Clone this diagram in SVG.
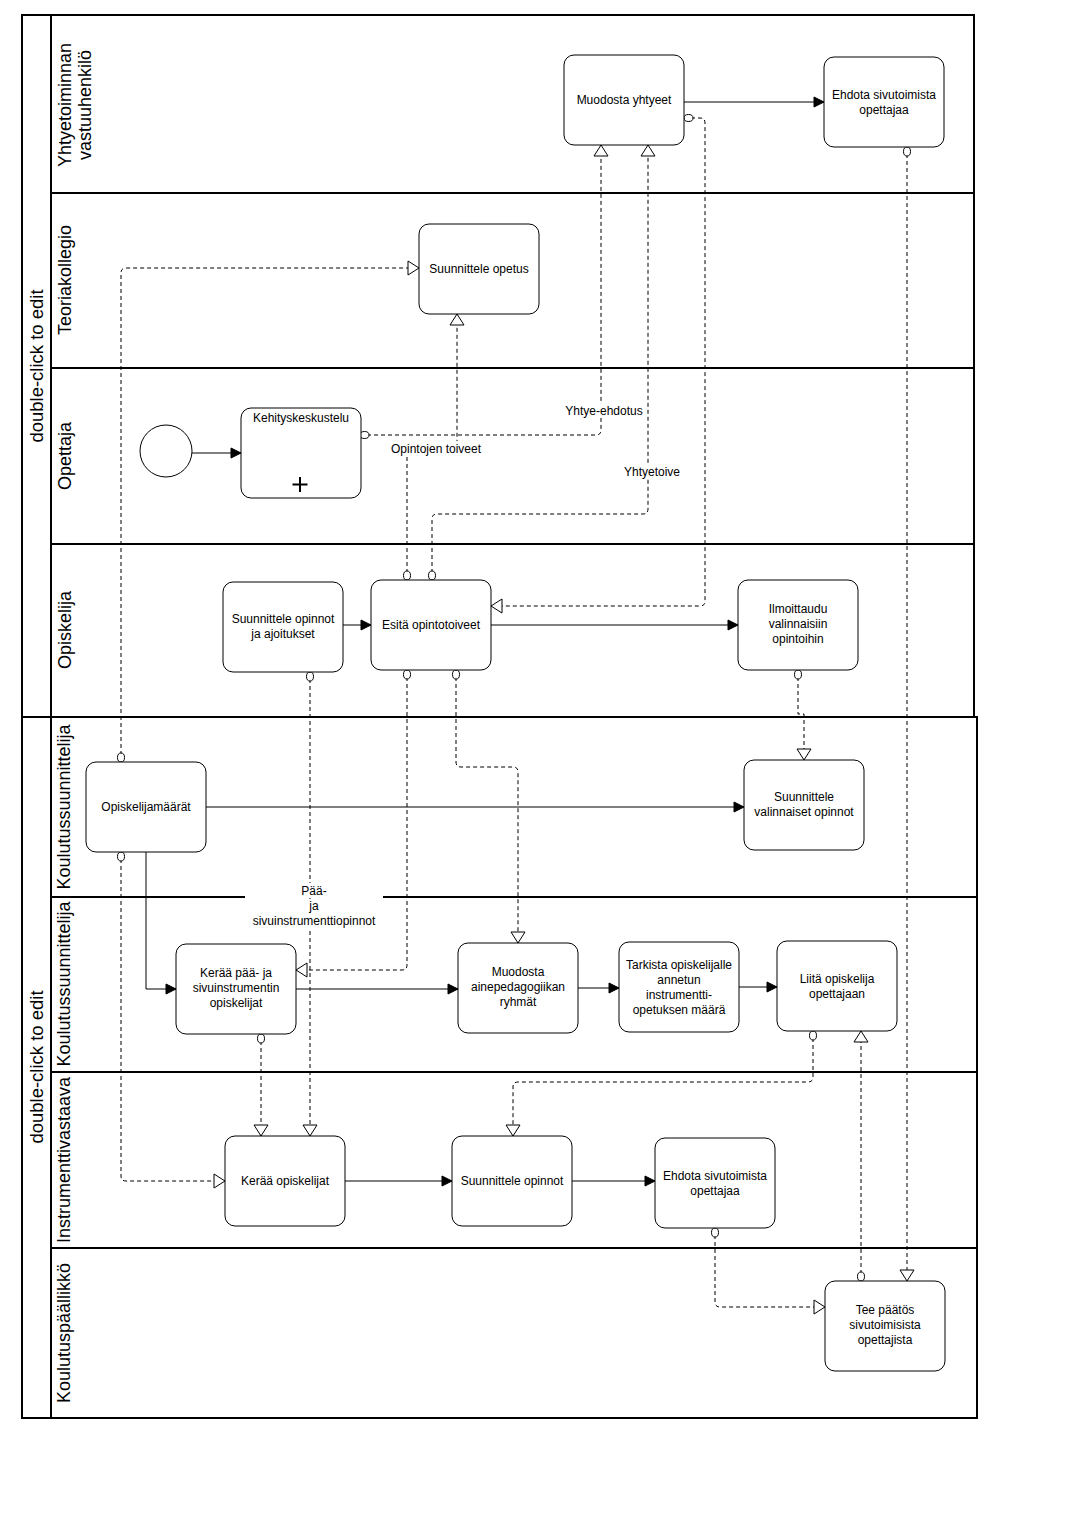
<svg xmlns="http://www.w3.org/2000/svg" width="1077" height="1519" viewBox="0 0 1077 1519">
<style>
text{font-family:"Liberation Sans",Arial,sans-serif;fill:#000}
.t{font-size:12px;text-anchor:middle}
.lane{font-size:18px;text-anchor:middle;dominant-baseline:central}
.pool{font-size:18.5px;text-anchor:middle;dominant-baseline:central}
.frame{fill:none;stroke:#000;stroke-width:2}
.task{fill:#fff;stroke:#000;stroke-width:1}
.seq{fill:none;stroke:#000;stroke-width:1;marker-end:url(#arr)}
.msg{fill:none;stroke:#000;stroke-width:1;stroke-dasharray:4 3;marker-start:url(#dot);marker-end:url(#tri)}
.bg{fill:#fff}
</style>
<defs>
<marker id="arr" markerUnits="userSpaceOnUse" markerWidth="12" markerHeight="12" refX="10" refY="5" orient="auto" overflow="visible"><path d="M0,0 L10,5 L0,10 z" fill="#000" stroke="#000" stroke-width="1"/></marker>
<marker id="tri" markerUnits="userSpaceOnUse" markerWidth="14" markerHeight="16" refX="11" refY="7" orient="auto" overflow="visible"><path d="M0,0 L11,7 L0,14 z" fill="#fff" stroke="#000" stroke-width="1"/></marker>
<marker id="dot" markerUnits="userSpaceOnUse" markerWidth="12" markerHeight="12" refX="0" refY="0" orient="auto" overflow="visible"><ellipse cx="4.5" cy="0" rx="4.5" ry="3.5" fill="#fff" stroke="#000" stroke-width="1"/></marker>
</defs>
<rect width="1077" height="1519" fill="#fff"/>
<g id="pools">
<rect class="frame" x="22" y="15" width="952" height="702"/>
<line class="frame" x1="51" y1="15" x2="51" y2="717"/>
<line class="frame" x1="51" y1="193" x2="974" y2="193"/>
<line class="frame" x1="51" y1="368" x2="974" y2="368"/>
<line class="frame" x1="51" y1="544" x2="974" y2="544"/>
<rect class="frame" x="22" y="717" width="955" height="701"/>
<line class="frame" x1="51" y1="717" x2="51" y2="1418"/>
<line class="frame" x1="51" y1="897" x2="245" y2="897"/>
<line class="frame" x1="383" y1="897" x2="977" y2="897"/>
<line class="frame" x1="51" y1="1072" x2="977" y2="1072"/>
<line class="frame" x1="51" y1="1248" x2="977" y2="1248"/>
<text class="pool" transform="rotate(-90 36 366)" x="36" y="366">double-click to edit</text>
<text class="pool" transform="rotate(-90 36 1067)" x="36" y="1067">double-click to edit</text>
<text class="lane" transform="rotate(-90 65 105)" x="65" y="105">Yhtyetoiminnan</text>
<text class="lane" transform="rotate(-90 85 105)" x="85" y="105">vastuuhenkilö</text>
<text class="lane" transform="rotate(-90 65 280)" x="65" y="280">Teoriakollegio</text>
<text class="lane" transform="rotate(-90 65 456)" x="65" y="456">Opettaja</text>
<text class="lane" transform="rotate(-90 65 630)" x="65" y="630">Opiskelija</text>
<text class="lane" transform="rotate(-90 64 807)" x="64" y="807">Koulutussuunnittelija</text>
<text class="lane" transform="rotate(-90 64 984)" x="64" y="984">Koulutussuunnittelija</text>
<text class="lane" transform="rotate(-90 64 1160)" x="64" y="1160">Instrumenttivastaava</text>
<text class="lane" transform="rotate(-90 64 1333)" x="64" y="1333">Koulutuspäällikkö</text>
</g>
<g id="connectors">
<path class="seq" d="M192,453 H241"/>
<path class="seq" d="M684,102 H824"/>
<path class="seq" d="M343,625 H371"/>
<path class="seq" d="M491,625 H738"/>
<path class="seq" d="M206,807 H744"/>
<path class="seq" d="M146,852 V989 H176"/>
<path class="seq" d="M296,989 H458"/>
<path class="seq" d="M578,988 H619"/>
<path class="seq" d="M739,987 H777"/>
<path class="seq" d="M345,1181 H452"/>
<path class="seq" d="M572,1181 H655"/>
<path class="msg" d="M360,435 H596 Q601,435 601,430 V145"/>
<path class="msg" d="M432,580 V519 Q432,514 437,514 H643 Q648,514 648,509 V145"/>
<path class="msg" d="M407,580 V454 Q407,449 412,449 H452 Q457,449 457,444 V314"/>
<path class="msg" d="M684,118 H700 Q705,118 705,123 V601 Q705,606 700,606 H491"/>
<path class="msg" d="M907,147 V1281"/>
<path class="msg" d="M121,762 V273 Q121,268 126,268 H419"/>
<path class="msg" d="M121,852 V1176 Q121,1181 126,1181 H225"/>
<path class="msg" d="M310,672 V1136"/>
<path class="msg" d="M407,670 V965 Q407,970 402,970 H296"/>
<path class="msg" d="M456,670 V762 Q456,767 461,767 H513 Q518,767 518,772 V943"/>
<path class="msg" d="M798,670 V714 H804 V760"/>
<path class="msg" d="M261,1034 V1136"/>
<path class="msg" d="M813,1031 V1077 Q813,1082 808,1082 H518 Q513,1082 513,1087 V1136"/>
<path class="msg" d="M861,1281 V1031"/>
<path class="msg" d="M715,1228 V1302 Q715,1307 720,1307 H825"/>
<rect class="bg" x="565" y="404" width="78" height="14"/>
<text class="t" x="604" y="415">Yhtye-ehdotus</text>
<rect class="bg" x="389" y="441" width="94" height="15"/>
<text class="t" x="436" y="453">Opintojen toiveet</text>
<rect class="bg" x="624" y="465" width="56" height="14"/>
<text class="t" x="652" y="476">Yhtyetoive</text>
<rect class="bg" x="245" y="883" width="138" height="15"/>
<rect class="bg" x="308" y="899" width="14" height="13"/>
<rect class="bg" x="248" y="913" width="132" height="15"/>
<text class="t" x="314" y="895">Pää-</text>
<text class="t" x="314" y="910">ja</text>
<text class="t" x="314" y="925">sivuinstrumenttiopinnot</text>
</g>
<g id="start"><circle cx="166" cy="451" r="26" fill="#fff" stroke="#000" stroke-width="1"/></g>
<g id="kehityskeskustelu"><rect class="task" x="241" y="408" width="120" height="90" rx="10"/><text class="t" x="301" y="422">Kehityskeskustelu</text><path d="M300,477 V492 M292.5,484.5 H307.5" stroke="#000" stroke-width="2"/></g>
<g id="muodosta-yhtyeet"><rect class="task" x="564" y="55" width="120" height="90" rx="10"/><text class="t" x="624" y="104">Muodosta yhtyeet</text></g>
<g id="ehdota-top"><rect class="task" x="824" y="57" width="120" height="90" rx="10"/><text class="t" x="884" y="99">Ehdota sivutoimista</text><text class="t" x="884" y="114">opettajaa</text></g>
<g id="suunnittele-opetus"><rect class="task" x="419" y="224" width="120" height="90" rx="10"/><text class="t" x="479" y="273">Suunnittele opetus</text></g>
<g id="suunnittele-opinnot-ajoitukset"><rect class="task" x="223" y="582" width="120" height="90" rx="10"/><text class="t" x="283" y="623">Suunnittele opinnot</text><text class="t" x="283" y="638">ja ajoitukset</text></g>
<g id="esita"><rect class="task" x="371" y="580" width="120" height="90" rx="10"/><text class="t" x="431" y="629">Esitä opintotoiveet</text></g>
<g id="ilmoittaudu"><rect class="task" x="738" y="580" width="120" height="90" rx="10"/><text class="t" x="798" y="613">Ilmoittaudu</text><text class="t" x="798" y="628">valinnaisiin</text><text class="t" x="798" y="643">opintoihin</text></g>
<g id="opiskelijamaarat"><rect class="task" x="86" y="762" width="120" height="90" rx="10"/><text class="t" x="146" y="811">Opiskelijamäärät</text></g>
<g id="suunnittele-valinnaiset"><rect class="task" x="744" y="760" width="120" height="90" rx="10"/><text class="t" x="804" y="801">Suunnittele</text><text class="t" x="804" y="816">valinnaiset opinnot</text></g>
<g id="keraa-paa"><rect class="task" x="176" y="944" width="120" height="90" rx="10"/><text class="t" x="236" y="977">Kerää pää- ja</text><text class="t" x="236" y="992">sivuinstrumentin</text><text class="t" x="236" y="1007">opiskelijat</text></g>
<g id="muodosta-ryhmat"><rect class="task" x="458" y="943" width="120" height="90" rx="10"/><text class="t" x="518" y="976">Muodosta</text><text class="t" x="518" y="991">ainepedagogiikan</text><text class="t" x="518" y="1006">ryhmät</text></g>
<g id="tarkista"><rect class="task" x="619" y="942" width="120" height="90" rx="10"/><text class="t" x="679" y="969">Tarkista opiskelijalle</text><text class="t" x="679" y="984">annetun</text><text class="t" x="679" y="999">instrumentti-</text><text class="t" x="679" y="1014">opetuksen määrä</text></g>
<g id="liita"><rect class="task" x="777" y="941" width="120" height="90" rx="10"/><text class="t" x="837" y="983">Liitä opiskelija</text><text class="t" x="837" y="998">opettajaan</text></g>
<g id="keraa-opiskelijat"><rect class="task" x="225" y="1136" width="120" height="90" rx="10"/><text class="t" x="285" y="1185">Kerää opiskelijat</text></g>
<g id="suunnittele-opinnot"><rect class="task" x="452" y="1136" width="120" height="90" rx="10"/><text class="t" x="512" y="1185">Suunnittele opinnot</text></g>
<g id="ehdota-bottom"><rect class="task" x="655" y="1138" width="120" height="90" rx="10"/><text class="t" x="715" y="1180">Ehdota sivutoimista</text><text class="t" x="715" y="1195">opettajaa</text></g>
<g id="tee-paatos"><rect class="task" x="825" y="1281" width="120" height="90" rx="10"/><text class="t" x="885" y="1314">Tee päätös</text><text class="t" x="885" y="1329">sivutoimisista</text><text class="t" x="885" y="1344">opettajista</text></g>
</svg>
